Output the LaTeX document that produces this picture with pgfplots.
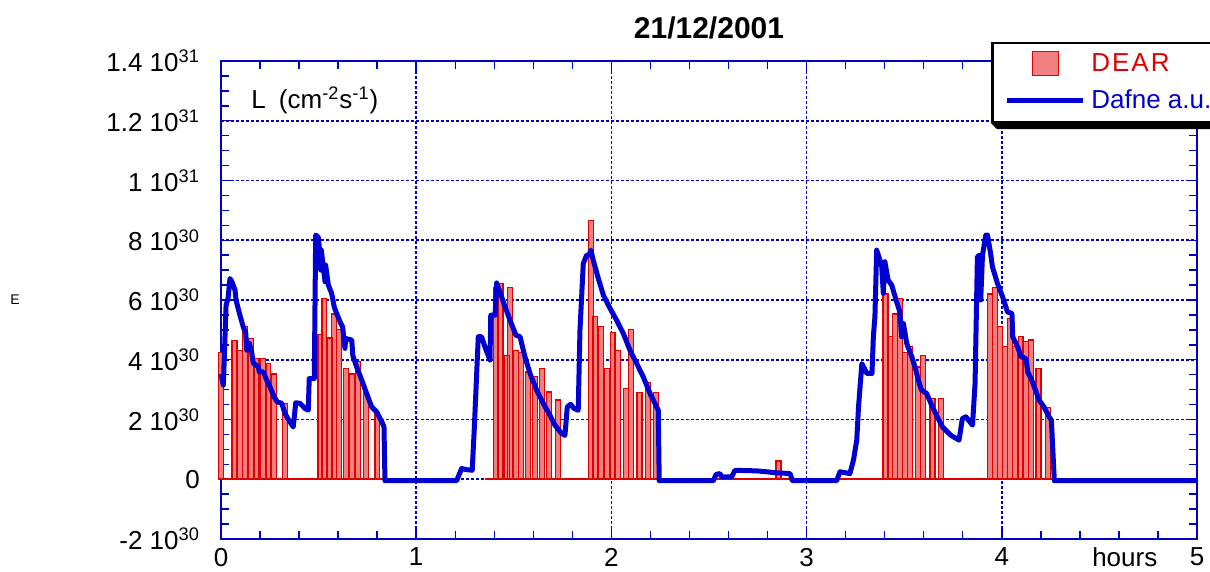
\documentclass[border=0pt]{standalone}
\usepackage{fontspec}
\setmainfont{Liberation Sans}
\usepackage{pgfplots}
\pgfplotsset{compat=1.18}

\definecolor{barfill}{RGB}{240,128,128}
\definecolor{barred}{RGB}{225,0,0}
\definecolor{lineblue}{RGB}{0,0,210}
\definecolor{axblue}{RGB}{0,0,200}

\begin{document}
\begin{tikzpicture}
\begin{axis}[
    scale only axis,
    width=488pt, height=239pt,
    xmin=0, xmax=5, ymin=-2, ymax=14,
    clip=false,
    axis line style={axblue, line width=0.8pt},
    xtick={0,1,2,3,4,5},
    xticklabels={0,1,2,3,4,5},
    ytick={-2,0,2,4,6,8,10,12,14},
    yticklabels={-2 10\textsuperscript{30},0,2 10\textsuperscript{30},4 10\textsuperscript{30},6 10\textsuperscript{30},8 10\textsuperscript{30},1 10\textsuperscript{31},1.2 10\textsuperscript{31},1.4 10\textsuperscript{31}},
    minor x tick num=4,
    minor y tick num=3,
    tick align=inside,
    tick pos=both,
    major tick length=5pt,
    minor tick length=4pt,
    every tick/.style={axblue, line width=0.7pt},
    ticklabel style={font=\fontsize{13}{15}\selectfont, text=black},
    yticklabel style={xshift=-7pt},
    xticklabel style={yshift=-1pt},
    grid=major,
    major grid style={axblue, line width=0.8pt, dash pattern=on 1.5pt off 1pt},
    title={21/12/2001},
    title style={font=\bfseries\fontsize{15}{18}\selectfont, at={(0.5,1)}, anchor=south, yshift=1.5pt},
    xlabel={hours},
    xlabel style={font=\fontsize{13}{15}\selectfont, at={(axis cs:4.63,-2)}, anchor=north, yshift=-1pt},
    ylabel={E},
    ylabel style={font=\fontsize{7}{8}\selectfont, rotate=-90, at={(axis description cs:-0.211,0.5)}, anchor=center},
    legend style={name=leg, at={(0.789,1.04)}, anchor=north west, draw=black, line width=1.3pt, fill=white,
        font=\fontsize{13}{15}\selectfont, inner xsep=6pt, inner ysep=3pt, row sep=4pt,
        nodes={inner xsep=3pt, inner ysep=2pt}},
    legend cell align=left,
]

% DEAR histogram bars
\addplot[ybar, bar width=0.025, draw=barred, fill=barfill, line width=0.6pt,
    legend image code/.code={\path[draw=none, fill=none] (0pt,0pt) -- (38pt,0pt);
        \draw[draw=barred, fill=barfill, line width=0.6pt] (13pt,-6pt) rectangle (26pt,6pt);}]
coordinates {
(0.001,4.24)(0.069,4.65)(0.096,4.32)(0.123,5.10)(0.153,4.72)(0.182,4.03)(0.214,4.03)(0.243,3.87)(0.272,3.52)(0.327,2.53)
(0.509,4.85)(0.530,6.05)(0.558,4.73)(0.580,5.53)(0.606,5.01)(0.639,3.71)(0.671,3.52)(0.701,3.93)(0.744,2.90)(0.801,2.23)
(1.410,6.42)(1.432,6.55)(1.464,4.13)(1.481,6.42)(1.510,4.32)(1.538,4.24)(1.574,3.59)(1.608,3.45)(1.645,3.71)(1.680,2.92)(1.726,2.65)
(1.896,8.67)(1.917,5.44)(1.948,5.10)(1.977,3.71)(2.006,4.91)(2.033,4.32)(2.074,3.04)(2.099,5.02)(2.144,2.90)(2.189,3.24)(2.227,2.90)
(2.856,0.61)
(3.404,6.20)(3.427,4.79)(3.452,5.53)(3.478,6.05)(3.505,4.24)(3.531,4.43)(3.570,3.76)(3.595,4.13)(3.645,2.70)(3.688,2.70)
(3.940,6.20)(3.964,6.42)(3.990,5.12)(4.015,4.45)(4.041,5.38)(4.068,4.43)(4.096,4.79)(4.125,4.60)(4.151,4.66)(4.188,3.71)(4.236,2.40)
};
\addlegendentry{\textcolor{barred}{D\kern1pt E\kern1pt A\kern1pt R}}

% histogram baseline
\addplot[barred, line width=1.1pt, forget plot] coordinates {(-0.012,0) (0.84,0)};
\addplot[barred, line width=1.1pt, forget plot] coordinates {(1.35,0) (4.27,0)};

% Dafne luminosity (a.u.)
\addplot[lineblue, line width=2.5pt, line join=round,
    legend image code/.code={\draw[lineblue, line width=2.5pt] (0pt,0pt) -- (38pt,0pt);}]
coordinates {
(0,3.52)(0.012,3.15)(0.026,5.83)(0.036,6.05)(0.046,6.72)(0.056,6.61)(0.072,6.33)(0.077,6.0)
(0.097,5.49)(0.114,5.10)(0.127,4.88)(0.132,4.32)(0.145,4.56)(0.157,4.26)(0.165,3.89)(0.191,3.76)
(0.196,3.59)(0.217,3.59)(0.234,3.32)(0.251,3.09)(0.272,2.76)(0.288,2.59)(0.311,2.54)(0.328,2.20)
(0.345,2.00)(0.370,1.75)(0.383,2.56)(0.405,2.54)(0.430,2.37)(0.447,2.31)(0.452,3.37)(0.478,3.37)
(0.485,8.17)(0.498,8.11)(0.507,7.56)(0.511,7.0)(0.514,7.67)(0.533,6.61)(0.536,7.17)(0.550,6.50)
(0.567,6.22)(0.580,5.77)(0.596,5.49)(0.610,5.27)(0.623,5.10)(0.635,4.38)(0.639,4.71)(0.670,4.66)
(0.675,4.15)(0.695,3.76)(0.721,3.32)(0.746,2.87)(0.772,2.42)(0.798,2.25)(0.826,1.89)(0.835,1.75)
(0.840,-0.05)(1.207,-0.05)(1.233,0.36)(1.259,0.32)(1.287,0.30)(1.298,1.75)(1.318,4.77)(1.335,4.77)
(1.352,4.43)(1.378,3.99)(1.382,5.49)(1.404,5.49)(1.412,6.57)(1.429,6.27)(1.455,5.77)(1.481,5.32)
(1.511,4.82)(1.532,4.77)(1.557,4.10)(1.583,3.54)(1.617,2.98)(1.651,2.54)(1.685,2.14)(1.711,1.81)
(1.745,1.53)(1.762,1.47)(1.774,2.42)(1.791,2.51)(1.808,2.37)(1.830,2.31)(1.839,4.99)(1.856,7.22)
(1.873,7.50)(1.885,7.50)(1.895,7.67)(1.907,7.33)(1.933,6.72)(1.959,6.16)(1.993,5.72)(2.027,5.32)
(2.061,4.88)(2.095,4.32)(2.130,3.87)(2.163,3.43)(2.198,2.87)(2.240,2.31)(2.245,-0.05)
(2.522,-0.05)(2.536,0.16)(2.556,0.19)(2.565,0.08)(2.616,0.08)(2.633,0.30)(2.744,0.28)(2.795,0.25)
(2.838,0.22)(2.915,0.19)(2.927,-0.05)(3.154,-0.05)(3.171,0.25)(3.222,0.19)(3.240,0.64)(3.257,1.31)
(3.266,2.42)(3.283,3.87)(3.309,3.54)(3.335,3.54)(3.342,4.77)(3.350,5.44)(3.359,7.67)(3.376,7.33)
(3.385,7.11)(3.393,6.22)(3.401,7.28)(3.418,6.66)(3.436,6.50)(3.461,5.94)(3.478,5.60)(3.487,4.77)
(3.496,5.21)(3.513,4.54)(3.539,4.10)(3.555,3.76)(3.572,3.32)(3.589,2.98)(3.615,2.87)(3.641,2.48)
(3.661,2.20)(3.696,1.75)(3.739,1.47)(3.781,1.31)(3.798,2.03)(3.816,2.09)(3.850,1.81)(3.863,3.20)
(3.875,7.44)(3.884,7.50)(3.892,6.0)(3.901,7.50)(3.918,8.17)(3.927,8.17)(3.944,7.50)(3.952,7.11)
(3.978,6.55)(4.004,6.11)(4.029,5.60)(4.052,5.55)(4.056,4.77)(4.064,4.66)(4.081,4.43)(4.099,4.10)
(4.124,4.04)(4.133,3.59)(4.150,3.37)(4.176,2.92)(4.191,2.65)(4.216,2.42)(4.242,2.09)(4.254,1.98)
(4.269,-0.05)(5.0,-0.05)
};
\addlegendentry{\textcolor{lineblue}{Dafne a.u.}}

\node[anchor=west, font=\fontsize{13}{15}\selectfont] at (axis cs:0.12,12.69) {L\enspace(cm\textsuperscript{-2}s\textsuperscript{-1})};

\coordinate (o) at (rel axis cs:0,0);
\end{axis}
% legend drop shadow along its lower edge
\fill[black] (leg.south west) -- ++(3pt,-3pt) -- ([xshift=3pt,yshift=-3pt]leg.south east) -- (leg.south east) -- cycle;
\pgfresetboundingbox
\path[use as bounding box] (o) ++(-110.5pt,-16.5pt) rectangle ++(605pt,286pt);
\end{tikzpicture}
\end{document}
